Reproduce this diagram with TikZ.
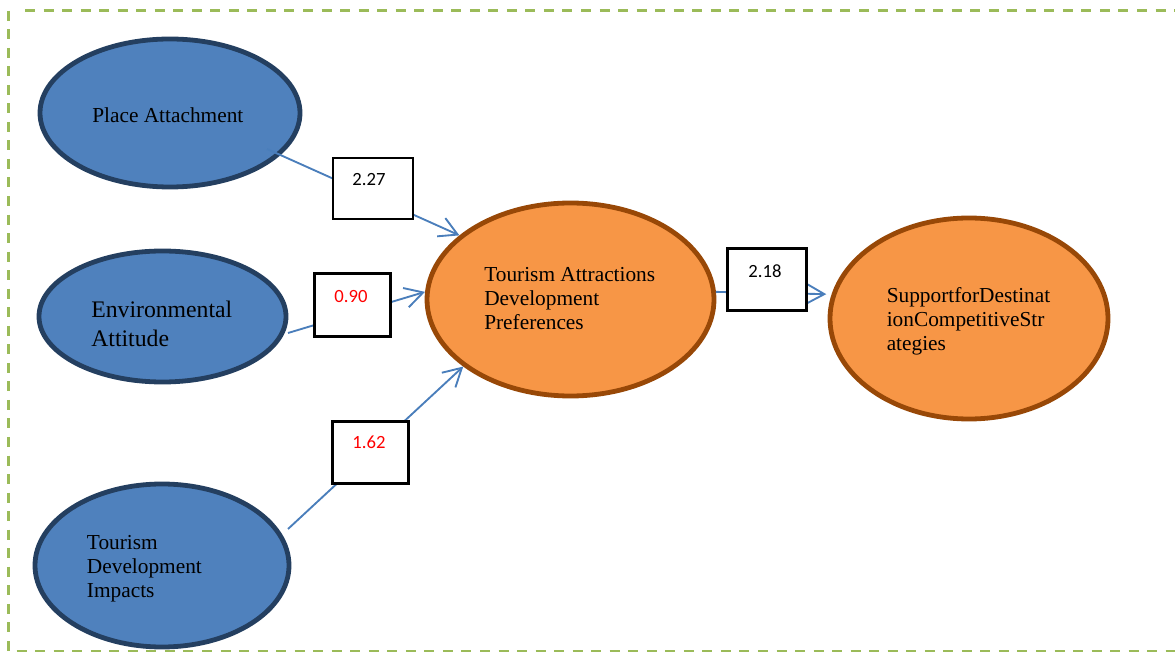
\documentclass[tikz,border=0pt]{standalone}
\usepackage{fontspec}
\setmainfont{Liberation Serif}
\newfontfamily\numfont{Carlito}
\usetikzlibrary{arrows.meta,shapes.geometric}
\definecolor{blfill}{HTML}{4F81BD}
\definecolor{bldraw}{HTML}{243F60}
\definecolor{orfill}{HTML}{F79646}
\definecolor{ordraw}{HTML}{984807}
\definecolor{linec}{HTML}{4A7EBB}
\definecolor{framec}{HTML}{9BBB59}
\begin{document}
\begin{tikzpicture}[x=0.75pt,y=-0.75pt,
  blueell/.style={ellipse, draw=bldraw, fill=blfill, line width=3.6pt, inner sep=0pt},
  orell/.style={ellipse, draw=ordraw, fill=orfill, line width=3.6pt, inner sep=0pt},
  lbl/.style={anchor=west, inner sep=0pt, align=left, font=\fontsize{16}{18}\selectfont},
  valbox/.style={draw=black, fill=white, line width=1.6pt, inner sep=0pt},
  val/.style={inner sep=0pt, font=\numfont\fontsize{14}{16}\selectfont},
  conn/.style={draw=linec, line width=1.4pt, -{Straight Barb[length=13.5pt,width=15pt]}},
  frame/.style={draw=framec, line width=2pt, dash pattern=on 7.5pt off 6.4pt}]
\useasboundingbox (0,0) rectangle (1175,652);
\clip (0,0) rectangle (1175,652);
% frame
\draw[frame] (8.3,10.7) -- (8.3,651) -- (1190,651);
\draw[frame] (25,10.7) -- (1190,10.7);
% ellipses
\node[blueell, minimum width=195pt, minimum height=111pt] (pa) at (170,113) {};
\node[blueell, minimum width=185.25pt, minimum height=98.25pt] (ea) at (162.5,316.5) {};
\node[blueell, minimum width=190.5pt, minimum height=122.25pt] (tdi) at (162,565.5) {};
\node[orell, minimum width=215.25pt, minimum height=144.75pt] (tadp) at (570.5,299.5) {};
\node[orell, minimum width=208.5pt, minimum height=150.75pt] (sdcs) at (969,318.5) {};
% texts
\node[lbl] (pat) at (92,115) {Place Attachment};
\node[lbl, font=\fontsize{17.8}{21.75}\selectfont] (eat) at (91,323.4) {Environmental\\Attitude};
\node[lbl] (tdit) at (86.7,568.4) {Tourism\\Development\\Impacts};
\node[lbl] (tadpt) at (484,299) {Tourism Attractions\\Development\\Preferences};
\node[lbl] (sdcst) at (886.5,321.6) {SupportforDestinat\\ionCompetitiveStr\\ategies};
% connector start points
\coordinate (pa-src) at (267,149);
\coordinate (ea-src) at (288,333);
\coordinate (tdi-src) at (288,529);
% connectors
\draw[conn] (pa-src) -- (tadp.150);
\draw[conn] (ea-src) -- (tadp.177);
\draw[conn] (tdi-src) -- (tadp.212);
\draw[conn, shorten >=4pt] (tadp.3) -- (sdcs.170);
% value boxes
\node[valbox, minimum width=60pt, minimum height=45.75pt] (b1) at (373,188.5) {};
\node[valbox, minimum width=57pt, minimum height=47.25pt] (b2) at (352.5,305) {};
\node[valbox, minimum width=57pt, minimum height=46.5pt] (b3) at (370.5,452.5) {};
\node[valbox, minimum width=59.25pt, minimum height=46.5pt] (b4) at (767,279.5) {};
\node[val] (v1) at (369,180) {2.27};
\node[val, text=red] (v2) at (351,297) {0.90};
\node[val, text=red] (v3) at (369,442) {1.62};
\node[val] (v4) at (765,271) {2.18};
\end{tikzpicture}
\end{document}
